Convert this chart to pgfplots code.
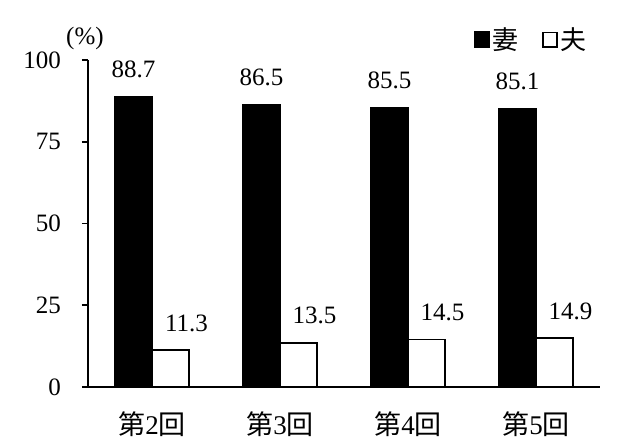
\documentclass[border=0pt]{standalone}
\usepackage{fontspec}
\setmainfont{Liberation Serif}
\newfontfamily\jp{Noto Sans CJK JP}
\usepackage{pgfplots}
\pgfplotsset{compat=1.18}

\begin{document}
\begin{tikzpicture}
\begin{axis}[
  x=128bp, y=3.27bp,
  xmin=-0.5, xmax=3.5,
  ymin=0, ymax=100,
  axis x line*=bottom,
  axis y line*=left,
  axis line style={line width=1.6bp},
  every tick/.style={line width=1.6bp, black},
  tick align=outside,
  ytick={0,25,50,75,100},
  major tick length=6bp,
  xtick={0,1,2,3},
  xticklabels={{\jp 第}2{\jp 回},{\jp 第}3{\jp 回},{\jp 第}4{\jp 回},{\jp 第}5{\jp 回}},
  x tick style={draw=none},
  minor xtick={-0.5,0.5,1.5,2.5,3.5},
  minor tick length=7bp,
  every minor tick/.style={line width=1.6bp, black},
  /pgf/number format/assume math mode=true,
  tick label style={font=\fontsize{25bp}{28bp}\selectfont},
  yticklabel style={inner sep=0pt, xshift=-21bp},
  xticklabel style={inner sep=0pt, yshift=-18bp, font=\fontsize{27bp}{30bp}\selectfont},
  ybar, bar width=37bp,
  nodes near coords={\pgfmathprintnumber[fixed,fixed zerofill,precision=1,assume math mode=true]{\pgfplotspointmeta}},
  every node near coord/.append style={font=\fontsize{25bp}{28bp}\selectfont, anchor=base, yshift=19bp, black},
  legend style={draw=none, fill=none, at={(0.977,1.062)}, anchor=east,
    legend columns=2, font=\fontsize{26bp}{28bp}\selectfont\jp,
    /tikz/every even column/.append style={column sep=22bp},
    inner sep=0pt},
  clip=false,
]
\addplot[bar shift=-18.5bp, fill=black, draw=black, line width=1.2bp,
  legend image code/.code={\fill[black] (0bp,-8bp) rectangle (15bp,8bp);}]
  coordinates {(0,88.7) (1,86.5) (2,85.5) (3,85.1)};
\addlegendentry{妻}
\addplot[bar shift=18.5bp, fill=white, draw=black, line width=1.6bp,
  every node near coord/.append style={xshift=16bp},
  legend image code/.code={\draw[draw=black, fill=white, line width=1.6bp] (0.8bp,-7.2bp) rectangle (15bp,7.2bp);}]
  coordinates {(0,11.3) (1,13.5) (2,14.5) (3,14.9)};
\addlegendentry{夫}
\node[font=\fontsize{25bp}{28bp}\selectfont] at (axis description cs:-0.006,1.067) {(\%)};
\end{axis}
\pgfresetboundingbox
\path[use as bounding box] (-88bp,-61bp) rectangle (552bp,387bp);
\end{tikzpicture}
\end{document}
